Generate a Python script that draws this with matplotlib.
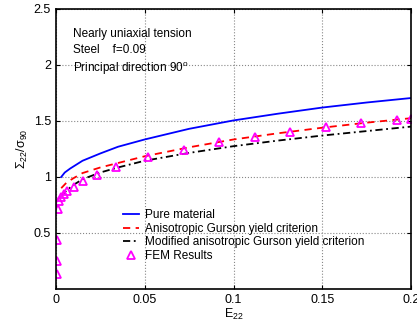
import matplotlib
matplotlib.use("Agg")
import matplotlib.pyplot as plt

plt.rcParams['font.family'] = ['Liberation Sans', 'DejaVu Sans']
plt.rcParams['mathtext.fontset'] = 'custom'
plt.rcParams['mathtext.rm'] = 'Liberation Sans'
plt.rcParams['mathtext.it'] = 'Liberation Sans'

# curves
pure_x = [0.003, 0.005, 0.008, 0.015, 0.025, 0.035, 0.05, 0.075, 0.1, 0.125, 0.15, 0.175, 0.2]
pure_y = [1.0, 1.04, 1.075, 1.145, 1.21, 1.27, 1.335, 1.43, 1.505, 1.565, 1.62, 1.665, 1.705]

aniso_x = [0.003, 0.006, 0.01, 0.015, 0.025, 0.035, 0.05, 0.075, 0.1, 0.125, 0.15, 0.175, 0.2]
aniso_y = [0.9, 0.95, 0.99, 1.035, 1.085, 1.125, 1.185, 1.265, 1.335, 1.39, 1.44, 1.485, 1.525]

mod_x = [0.003, 0.006, 0.01, 0.015, 0.025, 0.035, 0.05, 0.075, 0.1, 0.125, 0.15, 0.175, 0.2]
mod_y = [0.83, 0.88, 0.93, 0.98, 1.04, 1.085, 1.145, 1.215, 1.275, 1.325, 1.37, 1.41, 1.45]

fem_x = [0.0008, 0.0008, 0.0008, 0.0012, 0.0018, 0.003, 0.0045, 0.0065, 0.010, 0.015, 0.023,
         0.034, 0.052, 0.072, 0.092, 0.112, 0.132, 0.152, 0.172, 0.192, 0.2]
fem_y = [0.13, 0.25, 0.44, 0.71, 0.79, 0.82, 0.85, 0.875, 0.915, 0.96, 1.02,
         1.09, 1.175, 1.245, 1.31, 1.36, 1.405, 1.45, 1.48, 1.51, 1.52]

x_ticks = [0, 0.05, 0.1, 0.15, 0.2]
x_ticklabels = ['0', '0.05', '0.1', '0.15', '0.2']
y_ticks = [0.5, 1, 1.5, 2, 2.5]
y_ticklabels = ['0.5', '1', '1.5', '2', '2.5']

fig = plt.figure(figsize=(4.17, 3.26), dpi=100)
ax = fig.add_axes([0.134, 0.1135, 0.852, 0.859])

ax.plot(pure_x, pure_y, '-', color='#0000ff', lw=1.3, label='Pure material')
ax.plot(aniso_x, aniso_y, '--', color='#ff0000', lw=1.3, dashes=(4, 3),
        label='Anisotropic Gurson yield criterion')
ax.plot(mod_x, mod_y, '-.', color='black', lw=1.3, dashes=(4, 2, 1, 2),
        label='Modified anisotropic Gurson yield criterion')
ax.plot(fem_x, fem_y, '^', color='#ff00ff', mfc='none', mew=1.3, ms=6,
        linestyle='none', label='FEM Results')

ax.set_xlim(0, 0.2)
ax.set_ylim(0, 2.5)
ax.set_xticks(x_ticks)
ax.set_xticklabels(x_ticklabels)
ax.set_yticks(y_ticks)
ax.set_yticklabels(y_ticklabels)
ax.tick_params(direction='in', length=3, labelsize=9, top=True, right=True)
ax.grid(True, linestyle=':', color='#888888', linewidth=0.8)
for s in ax.spines.values():
    s.set_linewidth(1.2)

ax.set_xlabel('E$_{22}$', fontsize=9, labelpad=1)
ax.set_ylabel(r'$\Sigma_{22}/\sigma_{90}$', fontsize=9, labelpad=3)

ax.text(0.0096, 2.28, 'Nearly uniaxial tension', fontsize=8.5, va='center')
ax.text(0.0096, 2.13, 'Steel    f=0.09', fontsize=8.5, va='center')
ax.text(0.0096, 1.97, 'Principal direction 90$^o$', fontsize=8.5, va='center')

ax.legend(loc='upper left', bbox_to_anchor=(0.172, 0.305), frameon=False, fontsize=8.5,
          handlelength=1.4, handletextpad=0.5, labelspacing=0.12, borderpad=0)

fig.savefig('out.png', dpi=100)
